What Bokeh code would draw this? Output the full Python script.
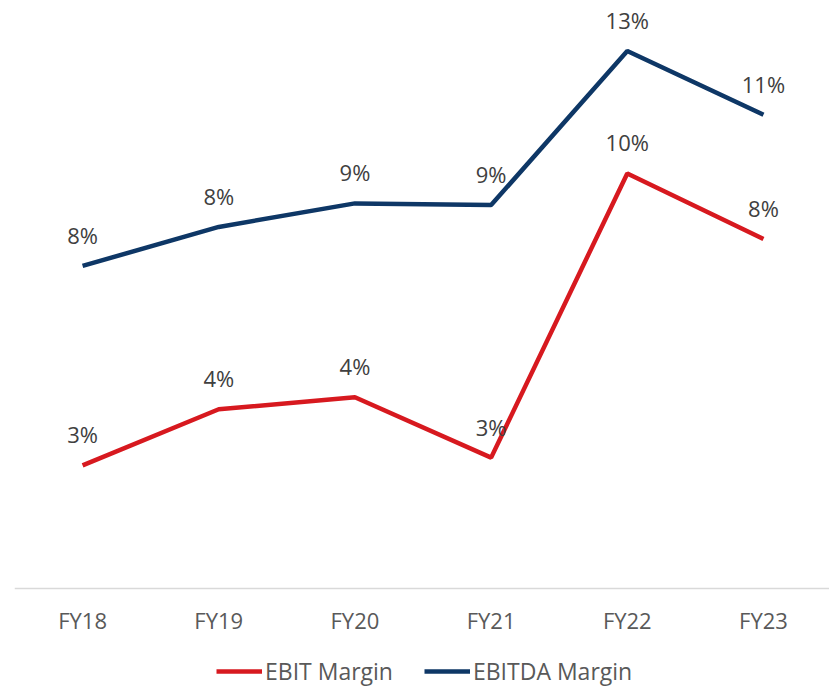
from bokeh.plotting import figure
from bokeh.models import Range1d, FixedTicker, Legend, LegendItem, ColumnDataSource
from bokeh.core.properties import value
from bokeh.embed import file_html
from bokeh.resources import INLINE

years = ["FY18", "FY19", "FY20", "FY21", "FY22", "FY23"]
ebit_margin = [2.88, 4.19, 4.47, 3.06, 9.70, 8.17]
ebitda_margin = [7.54, 8.45, 9.00, 8.96, 12.56, 11.07]

RED = "#D7191F"
NAVY = "#0E3766"
FONT = "Open Sans"

xs = list(range(len(years)))

p = figure(width=829, height=687, output_backend="svg", toolbar_location=None,
           x_range=Range1d(-0.5, 5.485), y_range=Range1d(-2.31, 13.74),
           y_axis_location=None, min_border_left=14, min_border_right=0,
           min_border_top=0, min_border_bottom=0)
p.outline_line_color = None
p.xgrid.visible = False
p.ygrid.visible = False
p.background_fill_color = "white"
p.border_fill_color = "white"

ax = p.xaxis[0]
ax.fixed_location = 0
ax.ticker = FixedTicker(ticks=xs)
ax.major_label_overrides = {i: y for i, y in enumerate(years)}
ax.major_tick_line_color = None
ax.minor_tick_line_color = None
ax.axis_line_color = "#D9D9D9"
ax.axis_line_width = 1.5
ax.major_label_text_font = FONT
ax.major_label_text_font_size = "22px"
ax.major_label_text_color = "#595959"
ax.major_label_standoff = 10

src_ebit = ColumnDataSource(dict(x=xs, y=ebit_margin,
                                 lab=[f"{round(v):d}%" for v in ebit_margin]))
src_ebitda = ColumnDataSource(dict(x=xs, y=ebitda_margin,
                                   lab=[f"{round(v):d}%" for v in ebitda_margin]))

r1 = p.line("x", "y", source=src_ebit, line_color=RED, line_width=4.5)
r2 = p.line("x", "y", source=src_ebitda, line_color=NAVY, line_width=4.5)

for src in (src_ebit, src_ebitda):
    p.text("x", "y", text="lab", source=src, text_font=value(FONT),
           text_font_size="22px", text_color="#404040", text_align="center",
           text_baseline="middle", y_offset=-31)

legend = Legend(items=[LegendItem(label="EBIT Margin", renderers=[r1]),
                       LegendItem(label="EBITDA Margin", renderers=[r2])],
                location=(202, 0), orientation="horizontal",
                label_text_font=FONT, label_text_font_size="23px",
                label_text_color="#595959", glyph_width=46, glyph_height=26,
                label_standoff=3, spacing=31, padding=0, margin=0,
                border_line_alpha=0, background_fill_alpha=0)
p.add_layout(legend, "center")

open("out.html", "w").write(file_html(p, INLINE))
